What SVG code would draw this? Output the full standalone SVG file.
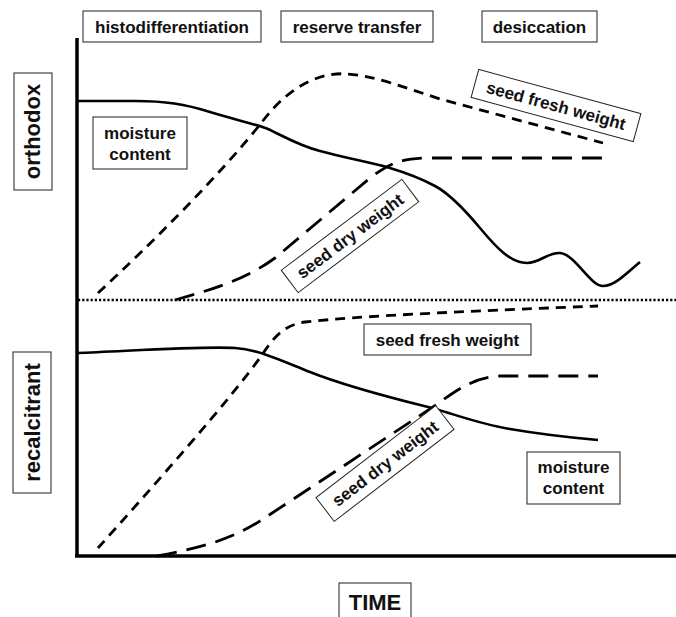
<svg xmlns="http://www.w3.org/2000/svg" width="676" height="617" viewBox="0 0 676 617">
<style>
.box{fill:#fff;stroke:#444;stroke-width:1.2}
.t{font-family:"Liberation Sans",Arial,sans-serif;font-weight:bold;fill:#111;text-anchor:middle}
.axis{fill:none;stroke:#000;stroke-width:3.5}
.solid{fill:none;stroke:#000;stroke-width:2.6}
.fresh{fill:none;stroke:#000;stroke-width:2.8;stroke-dasharray:10,7}
.dry{fill:none;stroke:#000;stroke-width:2.8;stroke-dasharray:20,10}
.dot{fill:none;stroke:#000;stroke-width:2.5;stroke-dasharray:2.2,2}
</style>
<rect width="676" height="617" fill="#fff"/>
<g id="connectors">
<line class="axis" x1="77" y1="38" x2="77" y2="557"/>
<line class="axis" x1="75" y1="556" x2="676" y2="556"/>
<line class="dot" x1="78" y1="300" x2="676" y2="300"/>
<path id="orth-moisture" class="solid" d="M77,101 L135,101 C165,101 185,104 210,112 C240,121 255,124 268,129 C285,137 300,146 320,151 C345,158 370,162 390,168 C410,174 420,178 435,186 C450,194 465,210 480,228 C495,246 510,263 527,263 C540,263 548,252 560,253 C575,254 590,286 603,286 C615,286 628,272 640,262"/>
<path id="orth-fresh" class="fresh" d="M98,293 C150,245 220,175 262,122 C292,82 325,72 347,74 C375,76 400,86 440,99 L603,143"/>
<path id="orth-dry" class="dry" d="M175,300 C210,290 245,280 275,258 L370,178 C390,163 400,159 425,158 L603,158"/>
<path id="rec-moisture" class="solid" d="M77,353 C130,351 200,346 235,348 C260,350 280,360 310,372 C350,388 400,400 432,408 C460,416 480,424 510,429 C545,435 575,438 598,440"/>
<path id="rec-fresh" class="fresh" d="M98,548 C150,490 230,400 262,355 C275,335 285,325 305,322 C360,316 450,312 598,306"/>
<path id="rec-dry" class="dry" d="M157,556 C200,548 230,540 260,521 L430,409 C455,392 470,378 500,376 L598,376"/>
</g>
<g id="phase-histo"><rect class="box" x="83" y="11" width="178" height="31"/><text class="t" x="172" y="33" font-size="17">histodifferentiation</text></g>
<g id="phase-reserve"><rect class="box" x="281" y="11" width="152" height="31"/><text class="t" x="357" y="33" font-size="17">reserve transfer</text></g>
<g id="phase-desic"><rect class="box" x="482" y="11" width="115" height="31"/><text class="t" x="539.5" y="33" font-size="17">desiccation</text></g>
<g id="label-orthodox"><rect class="box" x="14" y="73" width="38" height="117"/><text class="t" transform="translate(40,131.5) rotate(-90)" font-size="22">orthodox</text></g>
<g id="label-recalcitrant"><rect class="box" x="13" y="352" width="38" height="141"/><text class="t" transform="translate(40,422.5) rotate(-90)" font-size="22">recalcitrant</text></g>
<g id="orth-mc-label"><rect class="box" x="93" y="117" width="94" height="52"/><text class="t" x="140" y="139" font-size="17">moisture</text><text class="t" x="140" y="160" font-size="17">content</text></g>
<g id="orth-fw-label" transform="translate(556,105.5) rotate(15.2)"><rect class="box" x="-84" y="-14.5" width="168" height="29" style="stroke:#222;stroke-width:1"/><text class="t" x="0" y="6" font-size="17">seed fresh weight</text></g>
<g id="orth-dw-label" transform="translate(350,236) rotate(-37)"><rect class="box" x="-75.5" y="-14" width="151" height="28" style="stroke:#222;stroke-width:1"/><text class="t" x="0" y="6" font-size="17">seed dry weight</text></g>
<g id="rec-fw-label"><rect class="box" x="364" y="324" width="167" height="31"/><text class="t" x="447.5" y="346" font-size="17">seed fresh weight</text></g>
<g id="rec-dw-label" transform="translate(385,463.5) rotate(-37.5)"><rect class="box" x="-75.5" y="-15" width="151" height="30" style="stroke:#222;stroke-width:1"/><text class="t" x="0" y="6" font-size="17">seed dry weight</text></g>
<g id="rec-mc-label"><rect class="box" x="527" y="452" width="93" height="52"/><text class="t" x="573.5" y="473" font-size="17">moisture</text><text class="t" x="573.5" y="494" font-size="17">content</text></g>
<g id="time-label"><rect class="box" x="339" y="583" width="72" height="40"/><text class="t" x="375" y="610" font-size="22">TIME</text></g>
</svg>
